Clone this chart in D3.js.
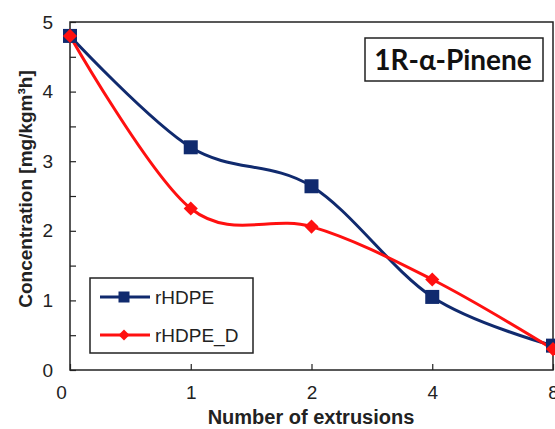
<!DOCTYPE html>
<html><head><meta charset="utf-8">
<script src="https://cdn.jsdelivr.net/npm/d3@7"></script>
<style>body{margin:0;background:#fff}svg{display:block}</style>
</head><body>
<script>
const categories = ["0","1","2","4","8"];
const rHDPE = [4.8, 3.2, 2.64, 1.05, 0.35];
const rHDPE_D = [4.8, 2.32, 2.06, 1.3, 0.3];
const yTicks = [0,1,2,3,4,5];
const seriesNames = ["rHDPE","rHDPE_D"];
const colors = ["#102a6e","#ff1010"];

const W=555,H=429;
const m={l:70,r:2,t:22,b:59};
const svg=d3.select("body").append("svg").attr("width",W).attr("height",H);
const x=d3.scalePoint().domain(categories).range([m.l,W-m.r]);
const y=d3.scaleLinear().domain([0,5]).range([H-m.b,m.t]);
const font="'Liberation Sans', Arial, sans-serif";

// frame
svg.append("rect").attr("x",m.l).attr("y",m.t).attr("width",W-m.r-m.l).attr("height",H-m.b-m.t)
 .attr("fill","none").attr("stroke","#222").attr("stroke-width",1.5);

// y axis
const ya=svg.append("g").attr("transform",`translate(${m.l},0)`)
 .call(d3.axisLeft(y).tickValues(d3.range(0,5.01,0.5)).tickSize(-6).tickFormat(d=>yTicks.includes(d)?d:""));
ya.select(".domain").remove();
ya.selectAll(".tick line").attr("stroke","#222").attr("stroke-width",1.2);
ya.selectAll(".tick text").attr("x",-17).attr("font-size",19).attr("font-family",font).attr("fill","#222");

// x axis
const xa=svg.append("g").attr("transform",`translate(0,${H-m.b})`)
 .call(d3.axisBottom(x).tickSize(-6));
xa.select(".domain").remove();
xa.selectAll(".tick line").attr("stroke","#222").attr("stroke-width",1.2);
xa.selectAll(".tick text").attr("y",29).attr("dy",0).attr("font-size",19).attr("font-family",font).attr("fill","#222")
 .attr("dx",d=>d==="0"?-9:0);

// labels
svg.append("text").attr("x",311).attr("y",424).attr("text-anchor","middle")
 .attr("font-family",font).attr("font-weight","bold").attr("font-size",20).attr("fill","#222")
 .text("Number of extrusions");
svg.append("text").attr("transform","translate(32,189) rotate(-90)").attr("text-anchor","middle")
 .attr("font-family",font).attr("font-weight","bold").attr("font-size",19).attr("fill","#222")
 .text("Concentration [mg/kgm³h]");

const line=d3.line().x((d,i)=>x(categories[i])).y(d=>y(d)).curve(d3.curveCardinal.tension(0));
const data=[rHDPE,rHDPE_D];
data.forEach((s,k)=>{
  svg.append("path").attr("d",line(s)).attr("fill","none").attr("stroke",colors[k]).attr("stroke-width",3);
});
function marker(g,k,cx,cy,big){
  if(k===0){const s=big?14:11; g.append("rect").attr("x",cx-s/2).attr("y",cy-s/2).attr("width",s).attr("height",s).attr("fill",colors[0]);}
  else g.append("path").attr("d",d3.symbol(d3.symbolSquare,big?100:60)()).attr("transform",`translate(${cx},${cy}) rotate(45)`).attr("fill",colors[1]);
}
data.forEach((s,k)=>{
  const g=svg.append("g");
  s.forEach((v,i)=>marker(g,k,x(categories[i]),y(v),true));
});

// legend
svg.append("rect").attr("x",90).attr("y",278).attr("width",163).attr("height",75)
 .attr("fill","#fff").attr("stroke","#222").attr("stroke-width",1.5);
seriesNames.forEach((n,k)=>{
  const ly=297+k*38;
  svg.append("line").attr("x1",100).attr("x2",150).attr("y1",ly).attr("y2",ly).attr("stroke",colors[k]).attr("stroke-width",3);
  marker(svg.append("g"),k,124,ly,false);
  svg.append("text").attr("x",155).attr("y",ly+7).attr("font-family",font).attr("font-size",19).attr("fill","#222").text(n);
});

// title box
svg.append("rect").attr("x",365).attr("y",38).attr("width",178).attr("height",43)
 .attr("fill","#fff").attr("stroke","#222").attr("stroke-width",1.5);
svg.append("text").attr("x",453).attr("y",70).attr("text-anchor","middle")
 .attr("font-family","Lato, 'Open Sans', sans-serif").attr("font-weight","bold").attr("font-size",28).attr("fill","#111")
 .text("1R-α-Pinene");
</script>
</body></html>
